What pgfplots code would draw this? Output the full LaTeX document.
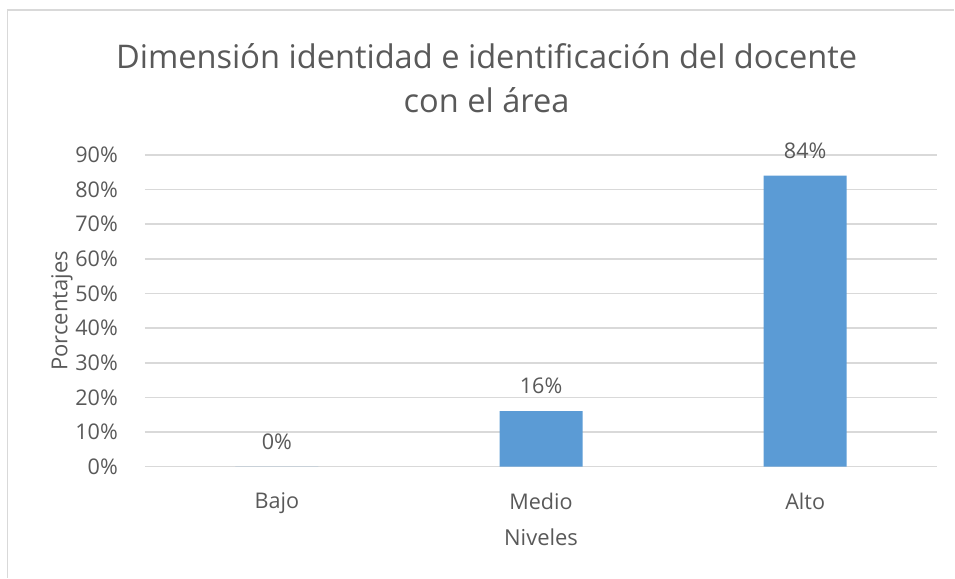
\documentclass[border=0pt]{standalone}
\usepackage{fontspec}
\setmainfont{Open Sans}
\usepackage{pgfplots}
\pgfplotsset{compat=1.18}

\definecolor{txtgray}{HTML}{595959}
\definecolor{gridgray}{HTML}{D9D9D9}
\definecolor{barblue}{HTML}{5B9BD5}

\begin{document}
\begin{tikzpicture}
  % chart area: 955x578 px at 0.5pt per px
  \path (0,0) rectangle (477.5pt,289pt);
  \draw[gridgray, line width=0.8pt] (3.75pt,0) -- (3.75pt,284pt) -- (477.5pt,284pt);
  \node[txtgray, font=\fontsize{16.3}{22}\selectfont, align=center]
    at (243.5pt,250pt) {Dimensión identidad e identificación del docente\\con el área};
  \begin{axis}[
    at={(72.5pt,55.5pt)}, anchor=south west,
    scale only axis,
    width=396.5pt, height=156pt,
    ybar,
    bar width=41.5pt,
    xmin=-0.5, xmax=2.5,
    ymin=0, ymax=90,
    xtick=data,
    xticklabels={Bajo, Medio, Alto},
    ytick={0,10,...,90},
    yticklabel={\pgfmathprintnumber{\tick}\%},
    /pgf/number format/assume math mode=true,
    axis line style={draw=none},
    axis x line*=bottom,
    x axis line style={draw=gridgray, line width=0.8pt},
    major tick length=0pt,
    ymajorgrids=true,
    grid style={gridgray, line width=0.8pt},
    tick label style={txtgray, font=\fontsize{10.8}{12}\selectfont},
    xticklabel style={yshift=-9.5pt},
    yticklabel style={xshift=-10pt},
    xlabel={Niveles},
    ylabel={Porcentajes},
    label style={txtgray, font=\fontsize{11}{13}\selectfont},
    xlabel style={yshift=-0.5pt},
    ylabel style={yshift=-5.5pt},
    nodes near coords={\pgfmathprintnumber{\pgfplotspointmeta}\%},
    nodes near coords style={txtgray, font=\fontsize{10.8}{12}\selectfont, yshift=5pt},
    clip=false,
  ]
    \addplot[fill=barblue, draw=none] coordinates {(0,0) (1,16) (2,84)};
  \end{axis}
\end{tikzpicture}
\end{document}
